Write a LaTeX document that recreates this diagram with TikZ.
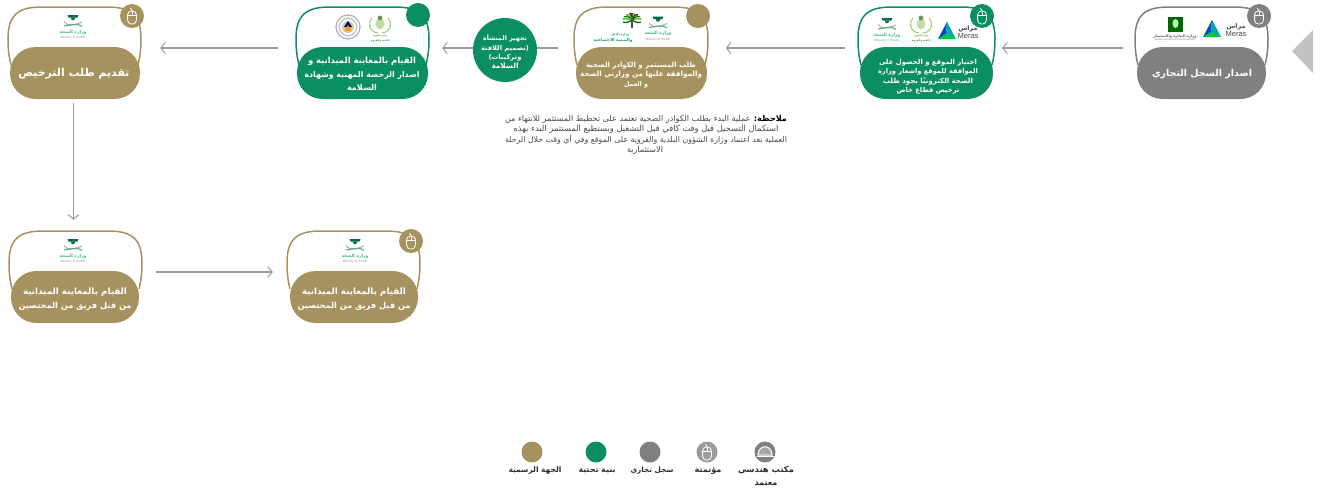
\documentclass[tikz,border=0pt]{standalone}
\usepackage{fontspec}
\usepackage{graphicx}
\usetikzlibrary{arrows.meta}
\TeXXeTstate=1
\newfontfamily\arfont[Script=Arabic]{DejaVu Sans}
\setmainfont{Liberation Sans}
\definecolor{gold}{HTML}{A6925F}
\definecolor{grn}{HTML}{0B8F60}
\definecolor{gry}{HTML}{808080}
\definecolor{lgry}{HTML}{9B9B9B}
\definecolor{mohg}{HTML}{45B48E}
\definecolor{rural}{HTML}{A5CE7C}
\definecolor{inkc}{HTML}{2B2B2B}
\definecolor{notec}{HTML}{4A4A4A}
\newcounter{tx}
% x, baseline y, width, colour, content
\newcommand\artext[5]{\stepcounter{tx}\node[txt,text=#4] (t\arabic{tx}) at (#1,#2) {\resizebox{#3pt}{!}{\arfont\fontsize{10}{12}\selectfont\bfseries #5}};}
\newcommand\arthin[5]{\stepcounter{tx}\node[txt,text=#4] (t\arabic{tx}) at (#1,#2) {\resizebox{#3pt}{!}{\arfont\fontsize{10}{12}\selectfont #5}};}
\newcommand\latext[5]{\stepcounter{tx}\node[txt,text=#4] (t\arabic{tx}) at (#1,#2) {\resizebox{#3pt}{!}{\fontsize{10}{12}\selectfont #5}};}
% name, left x, top y, width, colour, pill left, pill width
\newcommand\card[7]{%
  \node[frame] (#1) at ({#2+#4/2},{#3+46}) {};
  \draw[#5,line width=1.5pt] ({#2+3},{#3+58}) .. controls ({#2+1},{#3+50}) and (#2,{#3+42}) .. (#2,{#3+32})
     .. controls (#2,{#3+8}) and ({#2+10},#3) .. ({#2+34},#3) -- ({#2+#4-34},#3)
     .. controls ({#2+#4-10},#3) and ({#2+#4},{#3+8}) .. ({#2+#4},{#3+32})
     .. controls ({#2+#4},{#3+42}) and ({#2+#4-1},{#3+50}) .. ({#2+#4-3},{#3+58});
  \node[pillbox,fill=#5,minimum width=#7pt] (#1p) at ({#6+#7/2},{#3+66}) {};
}
\newcommand\mouseicon[2]{%
  \draw[white,line width=.8pt,rounded corners=3.8pt] ({#1-4.4},{#2-5}) rectangle ({#1+4.4},{#2+8});
  \draw[white,line width=.7pt] ({#1-4.4},{#2-.5}) -- ({#1+4.4},{#2-.5}) (#1,{#2-5}) -- (#1,{#2-.5});
  \draw[white,line width=.7pt] (#1,{#2-5}) .. controls (#1,{#2-6.5}) and ({#1-1.5},{#2-6.5}) .. ({#1-1.5},{#2-8});
}
\newcommand\mohlogo[2]{%
  \fill[grn!75!black] ({#1-4.5},{#2-3.5}) -- ({#1-5.5},{#2-6}) -- ({#1+5.5},{#2-6}) -- ({#1+4.5},{#2-3.5}) -- cycle;
  \fill[grn!75!black] ({#1-2.5},{#2-3.5}) -- ({#1+2.5},{#2-3.5}) -- ({#1+1.2},{#2-1}) -- ({#1-1.2},{#2-1}) -- cycle;
  \draw[gold!80!white,line width=1pt] ({#1-9},{#2+.5}) .. controls ({#1-4},{#2+7}) and ({#1+4},{#2+3}) .. ({#1+9},{#2+1});
  \draw[mohg,line width=1.1pt] ({#1-9},{#2+5}) .. controls ({#1-4},{#2+5}) and ({#1+3},{#2+1}) .. ({#1+9},{#2+5.5});
  \artext{#1}{#2+12}{27}{mohg}{\beginR وزارة الصحة\endR}
  \latext{#1}{#2+17.5}{25}{lgry}{Ministry of Health}
}
\newcommand\ruralogo[2]{%
  \draw[rural,line width=1.1pt] ({#1-2},{#2+8}) .. controls ({#1-12},{#2+7}) and ({#1-12},{#2-4}) .. ({#1-8},{#2-7});
  \draw[rural,line width=1.1pt] ({#1+2},{#2+8}) .. controls ({#1+12},{#2+7}) and ({#1+12},{#2-4}) .. ({#1+8},{#2-7});
  \fill[rural!70!white] (#1,{#2-1}) ellipse (4.5 and 5.5);
  \fill[rural!70!black] (#1,{#2-7}) ellipse (2.4 and 2.4);
  \artext{#1}{#2+11.5}{14}{rural!55!black}{\beginR وزارة الشؤون\endR}
  \artext{#1}{#2+16}{19}{rural!55!black}{\beginR البلدية والقروية\endR}
}
\newcommand\meras[3]{% x of triangle, centre y, x of text
  \fill[blue!65!cyan!80!black] (#1,{#2-9}) -- ({#1-9},{#2+8}) -- ({#1-1},{#2+3}) -- cycle;
  \fill[teal!70!cyan] (#1,{#2-9}) -- ({#1+9},{#2+8}) -- ({#1-1},{#2+3}) -- cycle;
  \fill[green!55!teal] ({#1-9},{#2+8}) -- ({#1+9},{#2+8}) -- ({#1-1},{#2+3}) -- cycle;
  \artext{#3}{#2-.5}{19}{inkc!85}{\beginR مراس\endR}
  \latext{#3}{#2+7.5}{21}{inkc!85}{Meras}
}
\tikzset{
  txt/.style={anchor=base,inner sep=0pt,outer sep=0pt},
  frame/.style={minimum width=133pt,minimum height=92pt,inner sep=0pt,draw=none},
  pillbox/.style={rounded corners=25.5pt,minimum height=52pt,inner sep=0pt,anchor=center},
  dot/.style={circle,inner sep=0pt},
  plainflow/.style={draw=lgry,line width=1.6pt},
  flow/.style={plainflow,-{Straight Barb[length=4.5pt,width=11pt,line width=1pt]}},
}
\begin{document}
\begin{tikzpicture}[x=1pt,y=-1pt]
\useasboundingbox (0,0) rectangle (1331,493);
\fill[white] (0,0) rectangle (1331,493);
\card{ca}{1135}{7}{133}{gry}{1137}{129}
\card{cb}{858}{7}{137}{grn}{860}{133}
\card{cc}{574}{7}{134}{gold}{576}{131}
\card{cd}{296}{7}{133}{grn}{297}{131}
\card{ce}{8}{7}{133}{gold}{10}{130}
\card{cf}{9}{231}{133}{gold}{11}{128}
\card{cg}{287}{231}{133}{gold}{290}{128}
\node[dot,fill=grn,minimum size=64pt] (hub) at (505,50) {};

\draw[flow,shorten <=12pt,shorten >=9pt] ([yshift=5pt]ca.west) -- ([yshift=5pt]cb.east);
\draw[flow,shorten <=15pt,shorten >=18pt] ([yshift=5pt]cb.west) -- ([yshift=5pt]cc.east);
\draw[plainflow,shorten <=16pt] ([yshift=5pt]cc.west) -- ([yshift=2pt]hub.east);
\draw[flow,shorten >=13pt] ([yshift=2pt]hub.west) -- ([yshift=5pt]cd.east);
\draw[flow,shorten <=18pt,shorten >=19pt] ([yshift=5pt]cd.west) -- ([yshift=5pt]ce.east);
\draw[flow,shorten <=4pt,shorten >=11pt] ([xshift=-1pt]ce.south) -- ([xshift=-2pt]cf.north);
\draw[flow,shorten <=14pt,shorten >=14pt] ([yshift=5pt]cf.east) -- ([yshift=5pt]cg.west);

% --- badges
\node[dot,fill=gry,minimum size=24pt] (ba) at (1259,16) {}; \mouseicon{1259}{16}
\node[dot,fill=grn,minimum size=24pt] (bb) at (982,16) {}; \mouseicon{982}{16}
\node[dot,fill=gold,minimum size=24pt] (bc) at (698,16) {};
\node[dot,fill=grn,minimum size=24pt] (bd) at (418,15) {};
\node[dot,fill=gold,minimum size=24pt] (be) at (132,16) {}; \mouseicon{132}{16}
\node[dot,fill=gold,minimum size=24pt] (bg) at (411,241) {}; \mouseicon{411}{241}

% --- right triangle
\fill[black!24] (1292,51) -- (1313,30) -- (1313,73) -- cycle;

% --- card a logos
\meras{1212}{29}{1236}
\fill[green!40!black] (1168,17) rectangle (1183,32);
\fill[white!70!green] (1175.5,23.5) ellipse (3 and 4.5);
\artext{1175}{37.5}{43}{inkc!75}{\beginR وزارة التجارة والاستثمار\endR}
\latext{1175}{40.8}{41}{inkc!65}{Ministry of Commerce and Investment}
% --- card b logos
\meras{947}{31}{968}
\ruralogo{921}{25}
\mohlogo{887}{24}
% --- card c logos
\mohlogo{658}{22.5}
\foreach \a/\c in {-20/green!50!black,10/gold,30/green!55!black,50/black!80,75/gold,90/green!60!black,105/black!80,130/gold,150/green!55!black,170/gold!60!green,200/green!50!black}{
  \draw[\c,line width=1.4pt] (632,20) .. controls ({632+4*cos(\a)},{20-8*sin(\a)}) and ({632+7*cos(\a)},{20-8*sin(\a)}) .. ({632+9.5*cos(\a)},{20-6.5*sin(\a)});
}
\draw[black!70,line width=1.4pt] (632,19) -- (632,28);
\artext{620}{35}{18}{grn!70!mohg}{\beginR وزارة العمل\endR}
\artext{613}{41.5}{39}{grn!70!mohg}{\beginR والتنمية الاجتماعية\endR}
% --- card d logos
\ruralogo{380}{25}
\draw[lgry!80,line width=1.2pt,fill=white] (348,27) circle (12);
\draw[lgry!55,line width=1.6pt] (348,27) circle (8.8);
\fill[gold!50!white] (348,27) circle (6);
\fill[blue!40!black] (344,27) -- (348,21) -- (352,27) -- cycle;
\fill[orange!80!yellow] (344.5,31) -- (348,25) -- (351.5,31) -- cycle;
% --- card e, f, g logos
\mohlogo{73}{21}
\mohlogo{73}{245}
\mohlogo{355}{245}

% --- card texts
\artext{1202}{76}{100}{white}{\beginR اصدار السجل التجاري\endR}
\artext{928}{64}{98}{white}{\beginR اختيار الموقع و الحصول على\endR}
\artext{928}{73.5}{100}{white}{\beginR الموافقة للموقع واشعار وزارة\endR}
\artext{928}{83}{90}{white}{\beginR الصحة الكترونيًا بجود طلب\endR}
\artext{928}{92}{63}{white}{\beginR ترخيص قطاع خاص\endR}
\artext{641}{67}{110}{white}{\beginR طلب المستثمر و الكوادر الصحية\endR}
\artext{641}{76}{122}{white}{\beginR والموافقة عليها من وزارتي الصحة\endR}
\artext{636}{86}{24}{white}{\beginR و العمل\endR}
\artext{362}{63}{108}{white}{\beginR القيام بالمعاينة الميدانية و\endR}
\artext{362}{77}{115}{white}{\beginR اصدار الرخصة المهنية وشهادة\endR}
\artext{362}{90}{30}{white}{\beginR السلامة\endR}
\artext{505}{40}{44}{white}{\beginR تجهيز المنشأة\endR}
\artext{505}{50}{48}{white}{\beginR (تصميم اللافتة\endR}
\artext{505}{59}{33}{white}{\beginR وتركيبات)\endR}
\artext{505}{68}{27}{white}{\beginR السلامة\endR}
\artext{74}{76}{111}{white}{\beginR تقديم طلب الترخيص\endR}
\artext{75}{294}{104}{white}{\beginR القيام بالمعاينة الميدانية\endR}
\artext{75}{308}{113}{white}{\beginR من قبل فريق من المختصين\endR}
\artext{354}{294}{104}{white}{\beginR القيام بالمعاينة الميدانية\endR}
\artext{354}{308}{113}{white}{\beginR من قبل فريق من المختصين\endR}

% --- note
\node[txt,text=notec] (note1) at (646,121) {\resizebox{282pt}{!}{\arfont\fontsize{10}{12}\selectfont\beginR{\bfseries\color{black} ملاحظة:} عملية البدء بطلب الكوادر الصحية تعتمد على تخطيط المستثمر للانتهاء من\endR}};
\arthin{646}{131}{265}{notec}{\beginR استكمال التسجيل قبل وقت كافي قبل التشغيل ويستطيع المستثمر البدء بهذه\endR}
\arthin{646}{142}{282}{notec}{\beginR العملية بعد اعتماد وزارة الشؤون البلدية والقروية على الموقع وفي أي وقت خلال الرحلة\endR}
\arthin{645}{152}{36}{notec}{\beginR الاستثمارية\endR}

% --- legend
\node[dot,fill=gry,minimum size=21pt] (la) at (765,452) {};
\draw[white,line width=1pt,fill=gry!70!white] (758,455) .. controls (758,444) and (772,444) .. (772,455) -- cycle;
\draw[white,line width=1.2pt] (756.5,456.5) -- (773.5,456.5);
\node[dot,fill=lgry,minimum size=21pt] (lb) at (707,452) {}; \mouseicon{707}{452}
\node[dot,fill=gry,minimum size=21pt] (lc) at (650,452) {};
\node[dot,fill=grn,minimum size=21pt] (ld) at (596,452) {};
\node[dot,fill=gold,minimum size=21pt] (le) at (532,452) {};
\artext{766}{472}{56}{inkc}{\beginR مكتب هندسي\endR}
\artext{766}{485}{23}{inkc}{\beginR معتمد\endR}
\artext{708}{472}{27}{inkc}{\beginR مؤتمتة\endR}
\artext{652}{472}{43}{inkc}{\beginR سجل تجاري\endR}
\artext{597}{472}{37}{inkc}{\beginR بنية تحتية\endR}
\artext{535}{472}{53}{inkc}{\beginR الجهة الرسمية\endR}
\end{tikzpicture}
\end{document}
